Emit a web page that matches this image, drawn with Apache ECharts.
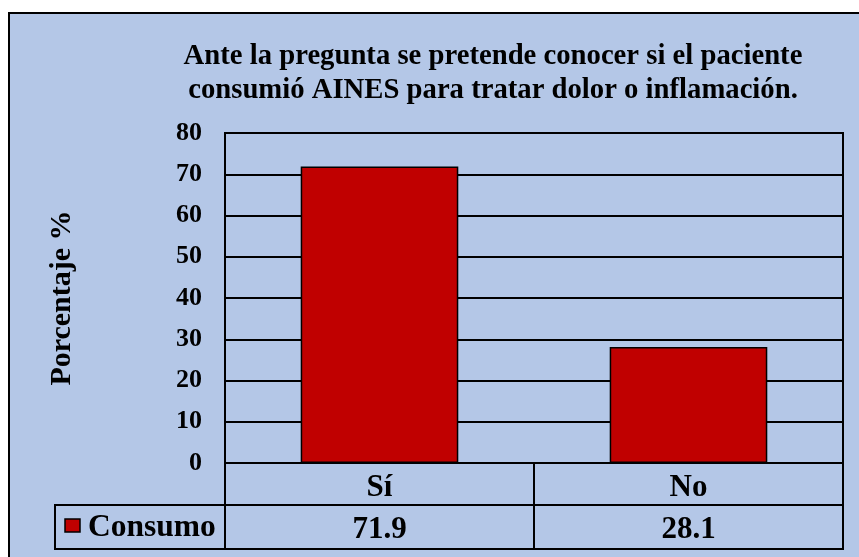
<html>
<head>
  <meta charset="utf-8" />
  <script src="https://cdn.jsdelivr.net/npm/echarts@6/dist/echarts.min.js"></script>
  <style>
    html, body { margin: 0; padding: 0; background: #fff; }
    #chart { width: 859px; height: 557px; }
  </style>
</head>
<body>
  <div id="chart"></div>
  <script>
    var categories = ['Sí', 'No'];
    var consumo = [71.9, 28.1];
    var seriesName = 'Consumo';
    var titleText = 'Ante la pregunta se pretende conocer si el paciente\nconsumió AINES para tratar dolor o inflamación.';
    var yName = 'Porcentaje %';

    var bg = '#B4C7E7';
    var barColor = '#C00000';
    var font = '"Liberation Serif", "Times New Roman", serif';

    // layout
    var gridLeft = 225, gridRight = 843, gridTop = 133, gridBottom = 463;
    var rowCat = 505, rowVal = 549, legendLeft = 55;

    var chart = echarts.init(document.getElementById('chart'));

    var option = {
      backgroundColor: '#fff',
      animation: false,
      title: {
        text: titleText,
        left: 488, top: 35, textAlign: 'center',
        textStyle: { fontFamily: font, fontWeight: 'bold', fontSize: 28.7, lineHeight: 34, color: '#000' }
      },
      grid: {
        left: gridLeft, top: gridTop, width: gridRight - gridLeft, height: gridBottom - gridTop,
        show: true, backgroundColor: bg, borderColor: '#000', borderWidth: 2
      },
      xAxis: [{
        type: 'category', data: categories,
        axisLine: { lineStyle: { color: '#000', width: 2 } },
        axisTick: { show: false },
        axisLabel: { margin: 9, fontFamily: font, fontWeight: 'bold', fontSize: 31, color: '#000' }
      }, {
        type: 'category', data: consumo.map(function (v) { return v.toFixed(1); }),
        position: 'bottom', offset: 42,
        axisLine: { show: false }, axisTick: { show: false },
        axisLabel: { margin: 9, fontFamily: font, fontWeight: 'bold', fontSize: 31, color: '#000' }
      }],
      yAxis: {
        type: 'value', min: 0, max: 80, interval: 10,
        name: yName, nameLocation: 'middle', nameGap: 148, nameRotate: 90,
        nameTextStyle: { fontFamily: font, fontWeight: 'bold', fontSize: 30, color: '#000' },
        axisLine: { show: true, lineStyle: { color: '#000', width: 2 } },
        axisTick: { show: false },
        axisLabel: { margin: 23, fontFamily: font, fontWeight: 'bold', fontSize: 26, color: '#000' },
        splitLine: { lineStyle: { color: '#000', width: 2 } }
      },
      series: [{
        name: seriesName, type: 'bar', data: consumo, barWidth: '51%',
        itemStyle: { color: barColor, borderColor: '#000', borderWidth: 1.5 }
      }]
    };
    chart.setOption(option);

    // background, outer border and data table
    var n = categories.length;
    var colW = (gridRight - gridLeft) / n;
    var g = [
      { type: 'rect', z: -10, silent: true, shape: { x: 9, y: 13, width: 870, height: 570 },
        style: { fill: bg, stroke: '#000', lineWidth: 2 } },
      { type: 'rect', z: 5, shape: { x: gridLeft, y: gridBottom, width: gridRight - gridLeft, height: rowVal - gridBottom },
        style: { fill: 'none', stroke: '#000', lineWidth: 2 } },
      { type: 'rect', z: 5, shape: { x: legendLeft, y: rowCat, width: gridRight - legendLeft, height: rowVal - rowCat },
        style: { fill: 'none', stroke: '#000', lineWidth: 2 } },
      { type: 'rect', z: 6, shape: { x: 65, y: 519, width: 15, height: 13 },
        style: { fill: barColor, stroke: '#000', lineWidth: 1.5 } },
      { type: 'text', z: 6, style: { x: 88, y: 528, text: seriesName, fontFamily: font, fontWeight: 'bold', fontSize: 31.5, fill: '#000', verticalAlign: 'middle' } }
    ];
    for (var i = 1; i < n; i++) {
      g.push({ type: 'line', z: 5, shape: { x1: gridLeft + colW * i, y1: gridBottom, x2: gridLeft + colW * i, y2: rowVal },
        style: { stroke: '#000', lineWidth: 2 } });
    }
    chart.setOption({ graphic: g });
  </script>
</body>
</html>
